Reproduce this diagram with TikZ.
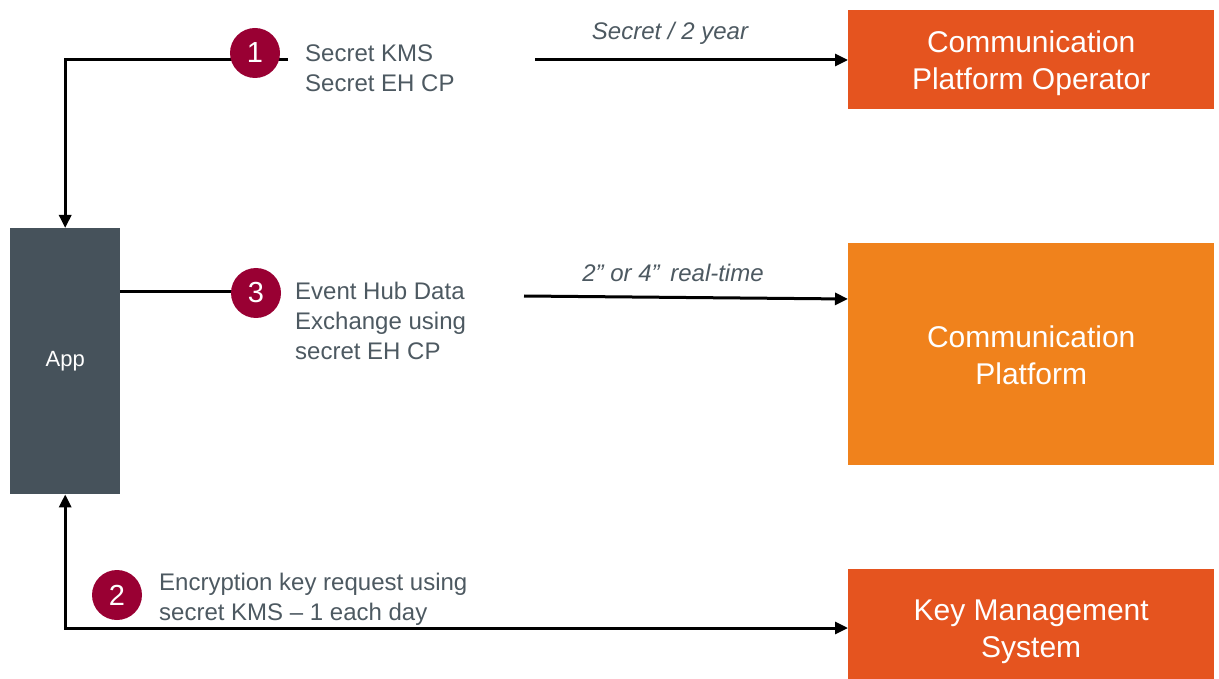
\documentclass[tikz,border=0pt]{standalone}
\usepackage{fontspec}
\setmainfont{Liberation Sans}
\usetikzlibrary{arrows.meta}
\definecolor{boxred}{HTML}{E5541F}
\definecolor{boxorange}{HTML}{F0821C}
\definecolor{appgray}{HTML}{46525B}
\definecolor{txtgray}{HTML}{4D5961}
\definecolor{numred}{HTML}{990033}
\tikzset{
  box/.style={draw=none, inner sep=0pt, anchor=north west},
  boxtxt/.style={align=center, text=white, inner sep=0pt, font=\fontsize{30}{37}\selectfont},
  numc/.style={circle, fill=numred, minimum size=50pt, inner sep=0pt, text=white,
    font=\fontsize{29}{30}\selectfont},
  lbl/.style={inner sep=0pt, anchor=west, align=left, text=txtgray,
    font=\fontsize{24}{30}\selectfont},
  ilbl/.style={inner sep=0pt, text=txtgray, font=\fontsize{24}{30}\selectfont\itshape},
  conn/.style={line width=3pt, black},
  arr/.style={conn, -{Triangle[length=13pt,width=12pt]}},
  biarr/.style={conn, {Triangle[length=13pt,width=12pt]}-{Triangle[length=13pt,width=12pt]}},
}
\begin{document}
\begin{tikzpicture}[x=1pt,y=-1pt]
\useasboundingbox (0,0) rectangle (1219,679);
% boxes
\node[box, fill=boxred, minimum width=366pt, minimum height=99pt,
  label={[boxtxt, yshift=-4pt]center:Communication\\Platform Operator}] (cpo) at (848,10) {};
\node[box, fill=boxorange, minimum width=366pt, minimum height=222pt,
  label={[boxtxt, yshift=-1pt]center:Communication\\Platform}] (cp) at (848,243) {};
\node[box, fill=boxred, minimum width=366pt, minimum height=110pt,
  label={[boxtxt, yshift=-8pt]center:Key Management\\System}] (kms) at (848,569) {};
\node[box, fill=appgray, minimum width=110pt, minimum height=266pt,
  text=white, font=\fontsize{22}{26}\selectfont] (app) at (10,228) {App};
% coordinates
\coordinate (s1) at (288,60);
\coordinate (a1) at (535,60);
\coordinate (a3) at (524,296);
\coordinate (b3) at (848,299);
\coordinate (y3) at (0,292);
\coordinate (y2) at (0,628);
% connectors
\draw[arr] (s1) -| (app.north);
\draw[arr] (a1) -- (cpo.west |- a1);
\draw[conn] (app.east |- y3) -- (255,292);
\draw[arr] (a3) -- (b3);
\draw[biarr] (app.south) |- (kms.west |- y2);
% circles
\node[numc] (c1) at (255,53) {1};
\node[numc] (c3) at (256,293) {3};
\node[numc] (c2) at (117,595) {2};
% labels
\node[lbl] (t1) at (305,68) {Secret KMS\\Secret EH CP};
\node[lbl] (t3) at (295,321) {Event Hub Data\\Exchange using\\secret EH CP};
\node[lbl] (t2) at (159,599) {Encryption  key request using\\secret KMS – 1 each day};
\node[ilbl] (l1) at (670,33) {Secret / 2 year};
\node[ilbl] (l3) at (673,273) {2\symbol{"22} or 4”\, real-time};
\end{tikzpicture}
\end{document}
